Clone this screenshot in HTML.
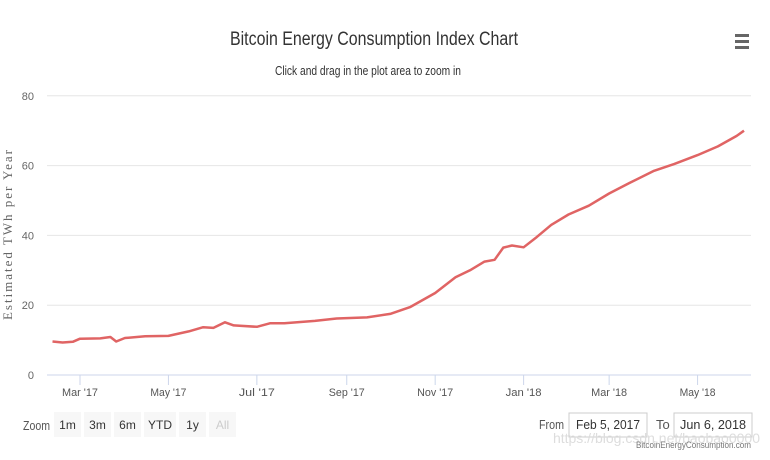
<!DOCTYPE html>
<html><head><meta charset="utf-8"><style>
body{margin:0;background:#fff;width:770px;height:455px;overflow:hidden;font-family:"Liberation Sans",sans-serif}
svg text{font-family:"Liberation Sans",sans-serif}
</style></head><body>
<svg id="chart" width="770" height="455" viewBox="0 0 770 455">
<text x="374" y="45" text-anchor="middle" font-size="19" fill="#333" textLength="288" lengthAdjust="spacingAndGlyphs">Bitcoin Energy Consumption Index Chart</text>
<text x="368" y="75" text-anchor="middle" font-size="13" fill="#333" textLength="186" lengthAdjust="spacingAndGlyphs">Click and drag in the plot area to zoom in</text>
<g fill="#666"><rect x="735" y="34" width="14" height="3"/><rect x="735" y="40" width="14" height="3"/><rect x="735" y="46" width="14" height="3"/></g>
<text transform="translate(12,235) rotate(-90)" text-anchor="middle" font-size="13" fill="#666" style="font-family:'Liberation Serif',serif" textLength="170" lengthAdjust="spacing">Estimated TWh per Year</text>
<g id="grid"></g><g id="xaxis"></g>
<path id="line" fill="none" stroke="#e06464" stroke-width="2.5" stroke-linejoin="round"/>
<text x="23" y="430" font-size="13" fill="#555" textLength="27" lengthAdjust="spacingAndGlyphs">Zoom</text>
<g id="btns"></g>
<text x="539" y="429" font-size="13" fill="#555" textLength="25" lengthAdjust="spacingAndGlyphs">From</text>
<rect x="569" y="413" width="78" height="24" fill="#fff" stroke="#ccc"/>
<text x="608" y="429" text-anchor="middle" font-size="13" fill="#333" textLength="64" lengthAdjust="spacingAndGlyphs">Feb 5, 2017</text>
<text x="656" y="429" font-size="13" fill="#555">To</text>
<rect x="674" y="413" width="78" height="24" fill="#fff" stroke="#ccc"/>
<text x="713" y="429" text-anchor="middle" font-size="13" fill="#333" textLength="66" lengthAdjust="spacingAndGlyphs">Jun 6, 2018</text>
<text x="760" y="443" text-anchor="end" font-size="14" fill="#ddd">https://blog.csdn.net/baobao0000</text>
<text x="751" y="448" text-anchor="end" font-size="9" fill="#777" textLength="115" lengthAdjust="spacingAndGlyphs">BitcoinEnergyConsumption.com</text>
</svg>
<script>
const dates=["2017-02-10","2017-02-17","2017-02-24","2017-03-01","2017-03-15","2017-03-22","2017-03-26","2017-04-01","2017-04-15","2017-05-01","2017-05-15","2017-05-25","2017-06-01","2017-06-09","2017-06-15","2017-07-01","2017-07-10","2017-07-20","2017-08-10","2017-08-25","2017-09-15","2017-10-01","2017-10-15","2017-11-01","2017-11-15","2017-11-25","2017-12-05","2017-12-12","2017-12-18","2017-12-24","2018-01-01","2018-01-10","2018-01-20","2018-02-01","2018-02-15","2018-03-01","2018-03-15","2018-04-01","2018-04-15","2018-05-01","2018-05-15","2018-05-28","2018-06-02"];
const values=[9.6,9.3,9.5,10.4,10.5,10.9,9.6,10.6,11.1,11.2,12.5,13.7,13.5,15.1,14.2,13.8,14.8,14.8,15.5,16.2,16.5,17.5,19.5,23.5,28,30,32.5,33,36.5,37.1,36.6,39.5,43,46,48.5,52,55,58.5,60.5,63,65.5,68.5,70];
const yTicks=[0,20,40,60,80];
const xTicks=["2017-03-01","2017-05-01","2017-07-01","2017-09-01","2017-11-01","2018-01-01","2018-03-01","2018-05-01"];
const xTickLabels=["Mar '17","May '17","Jul '17","Sep '17","Nov '17","Jan '18","Mar '18","May '18"];
const zoomButtons=["1m","3m","6m","YTD","1y","All"];
const NS="http://www.w3.org/2000/svg";
const t0=Date.parse("2017-03-01"),DAY=864e5;
function xs(d){return 80+(Date.parse(d)-t0)/DAY*1.4497;}
function ys(v){return 375-v*3.49;}
function mk(tag,attrs,parent,txt){const e=document.createElementNS(NS,tag);for(const k in attrs)e.setAttribute(k,attrs[k]);if(txt!==undefined)e.textContent=txt;parent.appendChild(e);return e;}
const grid=document.getElementById('grid');
yTicks.forEach(v=>{
 const l=mk('line',{x1:47,x2:751,y1:ys(v),y2:ys(v),stroke:v===0?'#ccd6eb':'#e6e6e6'},grid);
 
 
 const t=mk('text',{x:34,y:ys(v)+4,'text-anchor':'end','font-size':11,fill:'#666'},grid,String(v));
 
 
});
const xa=document.getElementById('xaxis');
xTicks.forEach((d,i)=>{
 const l=mk('line',{x1:xs(d),x2:xs(d),y1:375,y2:385,stroke:'#ccd6eb'},xa);
 
 
 const t=mk('text',{x:xs(d),y:396,'text-anchor':'middle','font-size':11,fill:'#555',textLength:36,lengthAdjust:'spacingAndGlyphs'},xa,xTickLabels[i]);
 
 
});
document.getElementById('line').setAttribute('d',dates.map((d,i)=>(i?'L':'M')+xs(d).toFixed(1)+','+ys(values[i]).toFixed(1)).join(''));
const bg=document.getElementById('btns');
let bx=54;
zoomButtons.forEach(b=>{
 const w=b==="YTD"?32:27;
 const r=mk('rect',{x:bx,y:412,width:w,height:25,fill:'#f7f7f7'},bg);
 
 
 const t=mk('text',{x:bx+w/2,y:429,'text-anchor':'middle','font-size':12,fill:b==="All"?'#ccc':'#333'},bg,b);
 
 
 bx+=w+3;
});
</script>
</body></html>
